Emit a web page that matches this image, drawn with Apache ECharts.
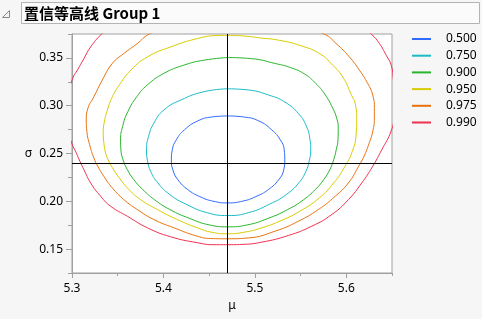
<!DOCTYPE html>
<html>
<head>
<meta charset="utf-8">
<script src="https://cdn.jsdelivr.net/npm/echarts@6/dist/echarts.min.js"></script>
<style>
html,body{margin:0;padding:0;background:#f6f6f6;}
#chart{width:482px;height:319px;}
</style>
</head>
<body>
<div id="chart"></div>
<script>
// ---- data ----
const titleText = '置信等高线 Group 1';
const levelNames = ['0.500', '0.750', '0.900', '0.950', '0.975', '0.990'];
const levelColors = ['#2f6bff', '#1bbcc8', '#2ab52e', '#d9cc00', '#e8720e', '#ef3050'];
const xTicks = [5.3, 5.4, 5.5, 5.6];
const xMinorTicks = [5.35, 5.45, 5.55, 5.65];
const yTicks = [0.15, 0.20, 0.25, 0.30, 0.35];
const yMinorTicks = [0.125, 0.175, 0.225, 0.275, 0.325, 0.375];
const muHat = 5.4705;
const sigmaHat = 0.2357;

const level500 = [[5.4704,0.2893],[5.4529,0.2882],[5.4376,0.2841],[5.4229,0.2747],[5.4141,0.2643],[5.4097,0.2539],[5.4087,0.2434],[5.4103,0.2330],[5.4158,0.2226],[5.4267,0.2122],[5.4398,0.2049],[5.4540,0.2002],[5.4704,0.1983],[5.4868,0.2002],[5.5010,0.2049],[5.5147,0.2122],[5.5261,0.2226],[5.5316,0.2330],[5.5327,0.2434],[5.5321,0.2539],[5.5278,0.2643],[5.5185,0.2747],[5.5043,0.2841],[5.4879,0.2882],[5.4704,0.2893]];
const level750 = [[5.4704,0.3177],[5.4442,0.3146],[5.4190,0.3059],[5.4005,0.2955],[5.3895,0.2817],[5.3837,0.2677],[5.3815,0.2539],[5.3826,0.2424],[5.3862,0.2309],[5.3939,0.2192],[5.4070,0.2070],[5.4245,0.1971],[5.4474,0.1882],[5.4704,0.1851],[5.4934,0.1882],[5.5163,0.1971],[5.5343,0.2070],[5.5480,0.2192],[5.5556,0.2309],[5.5595,0.2424],[5.5611,0.2539],[5.5603,0.2643],[5.5567,0.2778],[5.5480,0.2914],[5.5327,0.3039],[5.5152,0.3111],[5.4934,0.3164],[5.4704,0.3177]];
const level900 = [[5.4704,0.3504],[5.4442,0.3476],[5.4223,0.3424],[5.4005,0.3338],[5.3823,0.3216],[5.3709,0.3094],[5.3611,0.2938],[5.3553,0.2781],[5.3531,0.2643],[5.3535,0.2539],[5.3559,0.2434],[5.3606,0.2330],[5.3677,0.2226],[5.3775,0.2122],[5.3901,0.2018],[5.4070,0.1914],[5.4289,0.1820],[5.4507,0.1752],[5.4704,0.1733],[5.4912,0.1752],[5.5141,0.1820],[5.5360,0.1914],[5.5535,0.2018],[5.5660,0.2122],[5.5753,0.2226],[5.5819,0.2330],[5.5862,0.2434],[5.5890,0.2539],[5.5909,0.2643],[5.5912,0.2765],[5.5895,0.2869],[5.5852,0.2973],[5.5764,0.3122],[5.5666,0.3233],[5.5546,0.3330],[5.5393,0.3398],[5.5229,0.3440],[5.4966,0.3492],[5.4704,0.3504]];
const level950 = [[5.4704,0.3736],[5.4589,0.3734],[5.4371,0.3702],[5.4081,0.3615],[5.3824,0.3510],[5.3644,0.3372],[5.3529,0.3233],[5.3442,0.3094],[5.3387,0.2955],[5.3351,0.2817],[5.3341,0.2716],[5.3349,0.2608],[5.3364,0.2518],[5.3395,0.2434],[5.3442,0.2351],[5.3518,0.2244],[5.3624,0.2122],[5.3750,0.2018],[5.3934,0.1914],[5.4152,0.1809],[5.4371,0.1723],[5.4529,0.1676],[5.4704,0.1660],[5.4879,0.1676],[5.5054,0.1716],[5.5272,0.1792],[5.5491,0.1896],[5.5704,0.2035],[5.5862,0.2192],[5.5983,0.2361],[5.6065,0.2521],[5.6107,0.2695],[5.6114,0.2869],[5.6103,0.2997],[5.6048,0.3129],[5.5961,0.3302],[5.5852,0.3424],[5.5706,0.3546],[5.5488,0.3632],[5.5269,0.3684],[5.5050,0.3710],[5.4857,0.3731],[5.4704,0.3736]];
const level975 = [[5.4704,0.3914],[5.4398,0.3893],[5.4070,0.3830],[5.3841,0.3747],[5.3714,0.3650],[5.3567,0.3546],[5.3441,0.3442],[5.3331,0.3268],[5.3240,0.3094],[5.3174,0.2973],[5.3156,0.2851],[5.3163,0.2729],[5.3193,0.2591],[5.3240,0.2452],[5.3283,0.2365],[5.3349,0.2260],[5.3441,0.2140],[5.3567,0.2018],[5.3714,0.1914],[5.3895,0.1809],[5.4114,0.1723],[5.4370,0.1635],[5.4515,0.1611],[5.4704,0.1608],[5.4930,0.1617],[5.5222,0.1688],[5.5477,0.1792],[5.5695,0.1914],[5.5878,0.2052],[5.6023,0.2192],[5.6132,0.2361],[5.6201,0.2486],[5.6256,0.2625],[5.6289,0.2729],[5.6307,0.2869],[5.6307,0.2973],[5.6289,0.3111],[5.6234,0.3233],[5.6143,0.3372],[5.6034,0.3510],[5.5889,0.3650],[5.5761,0.3747],[5.5436,0.3841],[5.5054,0.3893],[5.4704,0.3914]];
const level990 = [[5.4704,0.4132],[5.4122,0.4080],[5.3740,0.3976],[5.3467,0.3872],[5.3321,0.3747],[5.3204,0.3615],[5.3131,0.3494],[5.3059,0.3372],[5.3015,0.3302],[5.2964,0.3143],[5.2942,0.2955],[5.2953,0.2768],[5.2997,0.2608],[5.3048,0.2504],[5.3087,0.2417],[5.3131,0.2330],[5.3204,0.2192],[5.3314,0.2052],[5.3423,0.1948],[5.3605,0.1844],[5.3824,0.1723],[5.4079,0.1629],[5.4370,0.1567],[5.4552,0.1546],[5.4704,0.1546],[5.4858,0.1549],[5.5077,0.1573],[5.5368,0.1643],[5.5623,0.1740],[5.5842,0.1862],[5.6024,0.2018],[5.6169,0.2192],[5.6286,0.2361],[5.6388,0.2539],[5.6491,0.2736],[5.6527,0.2903],[5.6538,0.3080],[5.6516,0.3268],[5.6491,0.3424],[5.6436,0.3528],[5.6363,0.3650],[5.6275,0.3747],[5.6090,0.3893],[5.5816,0.3997],[5.5270,0.4101],[5.4704,0.4132]];
const contours = [level500, level750, level900, level950, level975, level990];

// ---- chart ----
const chart = echarts.init(document.getElementById('chart'), null, {renderer: 'canvas'});
const font = '"Noto Sans", "DejaVu Sans", sans-serif';
const axisGray = '#a0a0a0';

const series = contours.map((d, i) => ({
  name: levelNames[i],
  type: 'line',
  data: d,
  smooth: 0.5,
  symbol: 'none',
  clip: true,
  silent: true,
  lineStyle: {color: levelColors[i], width: 1},
  itemStyle: {color: levelColors[i]},
  z: 2
}));
series.push({
  name: 'estimate',
  type: 'line',
  data: [],
  symbol: 'none',
  z: 3,
  markLine: {
    silent: true,
    symbol: ['none', 'none'],
    animation: false,
    label: {show: false},
    lineStyle: {color: '#000', width: 1, type: 'solid'},
    emphasis: {disabled: true},
    data: [{xAxis: muHat}, {yAxis: sigmaHat}]
  }
});

chart.setOption({
  animation: false,
  backgroundColor: '#f6f6f6',
  textStyle: {fontFamily: font},
  grid: {left: 72, right: 90, top: 34, bottom: 46, show: true, backgroundColor: '#ffffff', borderColor: axisGray, borderWidth: 1},
  legend: {
    data: levelNames,
    orient: 'vertical',
    left: 407,
    top: 27,
    icon: 'rect',
    itemWidth: 19,
    itemHeight: 2,
    itemGap: 2.7,
    selectedMode: false,
    textStyle: {fontSize: 12, color: '#000', lineHeight: 14, padding: [0, 0, 0, 10], fontFamily: font}
  },
  xAxis: [{
    type: 'value', min: 5.3, max: 5.65,
    name: 'μ', nameLocation: 'middle', nameGap: 25,
    nameTextStyle: {fontSize: 12, color: '#000', fontFamily: font},
    axisLine: {show: true, lineStyle: {color: axisGray}},
    axisTick: {show: true, length: 5, lineStyle: {color: axisGray}, customValues: xTicks},
    axisLabel: {show: true, color: '#000', fontSize: 12, margin: 10, customValues: xTicks, formatter: v => v.toFixed(1)},
    splitLine: {show: false}
  }, {
    type: 'value', min: 5.3, max: 5.65, position: 'bottom',
    axisLine: {show: false},
    axisTick: {show: true, length: 3, lineStyle: {color: axisGray}, customValues: xMinorTicks},
    axisLabel: {show: false},
    splitLine: {show: false}
  }],
  yAxis: [{
    type: 'value', min: 0.125, max: 0.375,
    name: 'σ', nameLocation: 'middle', nameGap: 40, nameRotate: 0,
    nameTextStyle: {fontSize: 12, color: '#000', fontFamily: font},
    axisLine: {show: true, lineStyle: {color: axisGray}},
    axisTick: {show: true, length: 6, lineStyle: {color: axisGray}, customValues: yTicks},
    axisLabel: {show: true, color: '#000', fontSize: 12, margin: 9, customValues: yTicks, formatter: v => v.toFixed(2)},
    splitLine: {show: false}
  }, {
    type: 'value', min: 0.125, max: 0.375, position: 'left',
    axisLine: {show: false},
    axisTick: {show: true, length: 4, lineStyle: {color: axisGray}, customValues: yMinorTicks},
    axisLabel: {show: false},
    splitLine: {show: false}
  }],
  graphic: [
    {type: 'rect', shape: {x: 21.5, y: 2.5, width: 458, height: 21}, style: {fill: '#fbfbfb', stroke: '#b4b4b4', lineWidth: 1}, silent: true},
    {type: 'polyline', shape: {points: [[2.5, 17.5], [9.5, 17.5], [9.5, 10.5], [2.5, 17.5]]}, style: {fill: 'none', stroke: '#8a8a8a', lineWidth: 1}, silent: true},
    {type: 'text', x: 24, y: 13, style: {text: titleText, fill: '#000', font: 'bold 15px "Noto Sans CJK SC", "Noto Sans", sans-serif', textVerticalAlign: 'middle'}, silent: true}
  ],
  series: series
});
</script>
</body>
</html>
